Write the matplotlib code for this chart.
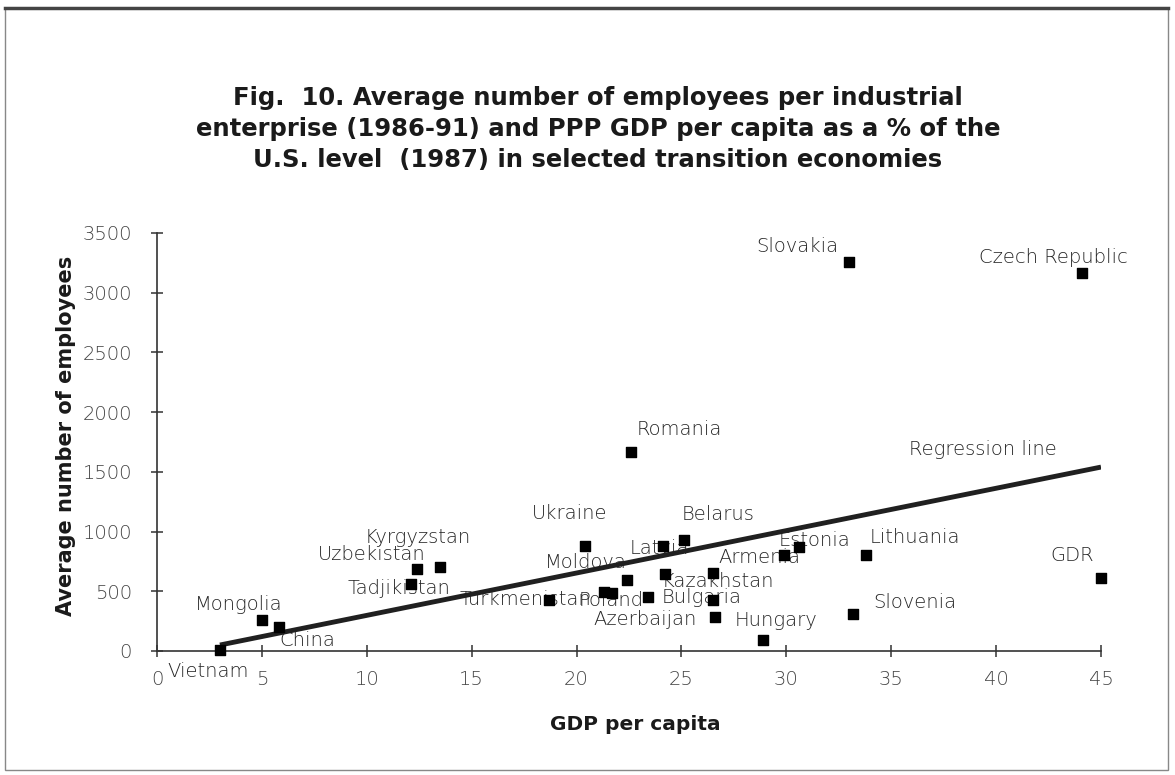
import matplotlib
matplotlib.use('agg')
import matplotlib.pyplot as plt
from matplotlib.patches import Rectangle

# data
countries = ['Vietnam', 'Mongolia', 'China', 'Uzbekistan', 'Kyrgyzstan', 'Tadjikistan',
             'Turkmenistan', 'Ukraine', 'Poland', '', 'Moldova', 'Romania', 'Latvia',
             'Kazakhstan', 'Bulgaria', 'Belarus', '', '', 'Azerbaijan', 'Hungary',
             'Armenia', 'Estonia', 'Lithuania', 'Slovenia', 'Slovakia', 'Czech Republic', 'GDR']
gdp = [3.0, 5.0, 5.8, 12.4, 13.5, 12.1, 18.7, 20.4, 21.3, 21.7, 22.4, 22.6, 24.1,
       24.2, 23.4, 25.1, 26.5, 26.5, 26.6, 28.9, 29.9, 30.6, 33.8, 33.2, 33.0, 44.1, 45.0]
employees = [10, 260, 200, 690, 700, 560, 430, 880, 490, 485, 595, 1665, 880,
             645, 450, 930, 655, 430, 285, 90, 805, 870, 805, 310, 3255, 3165, 610]
reg_x = [3.0, 45.0]
reg_y = [50, 1540]

# label offsets in pixels (dx right, dy down)
offsets = [(-12, 22), (-23, -15), (29, 13), (-45, -14), (-22, -30), (-12, 4),
           (-24, 0), (-15, -32), (7, 8), (0, 0), (-41, -17), (48, -23), (-3, 3),
           (53, 8), (54, 0), (35, -25), (0, 0), (0, 0), (-70, 3), (13, -20),
           (-25, 3), (16, -7), (49, -17), (61, -11), (-52, -16), (-29, -16), (-29, -23)]

plt.rcParams['font.family'] = ['DejaVu Sans']
txtc = '#1a1a1a'
labc = '#262626'

fig = plt.figure(figsize=(11.75, 7.75), dpi=100)
ax = fig.add_axes([157/1175, 1-651/775, (1101-157)/1175, (651-233)/775])

for name, x, y, (dx, dy) in zip(countries, gdp, employees, offsets):
    if name:
        ax.annotate(name, (x, y), xytext=(dx, -dy), textcoords='offset pixels',
                    ha='center', va='center', fontsize=14, fontweight='light',
                    color=labc, zorder=2)

ax.plot(reg_x, reg_y, color='#202020', linewidth=3.5, solid_capstyle='butt', zorder=3)
ax.annotate('Regression line', (reg_x[1], reg_y[1]), xytext=(-118, 18),
            textcoords='offset pixels', ha='center', va='center', fontsize=14,
            fontweight='light', color=labc)
ax.scatter(gdp, employees, marker='s', s=62, color='black', zorder=4, clip_on=False)

ax.set_xlim(0, 45)
ax.set_ylim(0, 3500)
ax.set_xticks(range(0, 46, 5))
ax.set_yticks(range(0, 3501, 500))
for s in ['top', 'right']:
    ax.spines[s].set_visible(False)
for s in ['left', 'bottom']:
    ax.spines[s].set_linewidth(1.2)
    ax.spines[s].set_color('#333333')
ax.tick_params(direction='inout', length=8, width=1.1, color='#333333',
               labelsize=14, labelcolor='#444444')
ax.tick_params(axis='x', pad=10)
ax.tick_params(axis='y', pad=14)
for lab in ax.get_xticklabels() + ax.get_yticklabels():
    lab.set_fontweight('light')

fig.text(66/1175, 1-436/775, 'Average number of employees', rotation=90,
         ha='center', va='center', fontsize=15, fontweight='bold', color=txtc)
fig.text(635/1175, 1-724/775, 'GDP per capita', ha='center', va='center',
         fontsize=14.5, fontweight='bold', color=txtc)
fig.text(598/1175, 1-129/775,
         'Fig.  10. Average number of employees per industrial\n'
         'enterprise (1986-91) and PPP GDP per capita as a % of the\n'
         'U.S. level  (1987) in selected transition economies',
         ha='center', va='center', fontsize=17.5, fontweight='bold', color=txtc,
         linespacing=1.35)

fig.patches.append(Rectangle((0.004, 0.006), 0.99, 0.984, transform=fig.transFigure,
                             fill=False, edgecolor='#888888', linewidth=1))
fig.add_artist(plt.Line2D([0.004, 0.994], [0.99, 0.99], transform=fig.transFigure,
                          color='#444444', linewidth=2.5))

fig.savefig('out.png', dpi=100)
